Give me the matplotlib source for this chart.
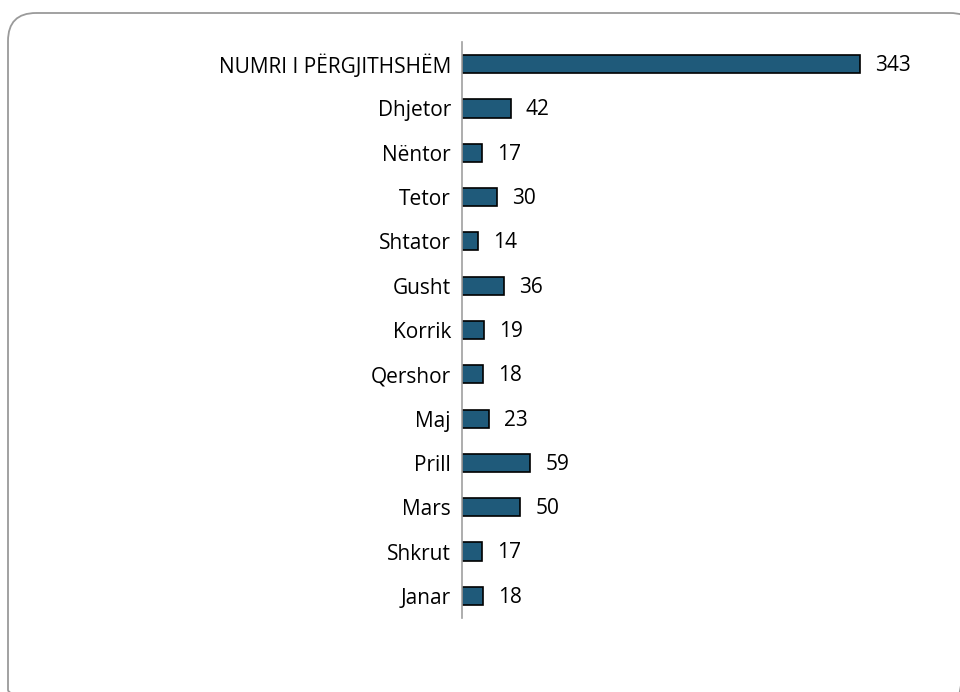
import matplotlib.pyplot as plt
from matplotlib.patches import FancyBboxPatch

months = ['Janar', 'Shkrut', 'Mars', 'Prill', 'Maj', 'Qershor', 'Korrik',
          'Gusht', 'Shtator', 'Tetor', 'Nëntor', 'Dhjetor', 'NUMRI I PËRGJITHSHËM']
counts = [18, 17, 50, 59, 23, 18, 19, 36, 14, 30, 17, 42, 343]

plt.rcParams['font.family'] = ['Open Sans', 'DejaVu Sans']

W, H = 960, 692
fig = plt.figure(figsize=(9.6, 6.92), dpi=100)

# rounded frame, drawn in pixel units on a background axes
bg = fig.add_axes([0, 0, 1, 1])
bg.set_xlim(0, W)
bg.set_ylim(H, 0)
bg.axis('off')
bg.add_patch(FancyBboxPatch((8, 13), 970, 705, boxstyle='round,pad=0,rounding_size=28',
                            facecolor='none', edgecolor='#9a9a9a', linewidth=1.3))

px = 1.16  # pixels per unit
ax = fig.add_axes([462 / W, 1 - 618 / H, 400 * px / W, (618 - 42) / H])
y = range(len(months))
ax.barh(y, counts, height=0.41, color='#1f5a7a', edgecolor='black', linewidth=1.2)
ax.set_xlim(0, 400)
ax.set_ylim(-0.5, len(months) - 0.5)
ax.set_yticks(list(y))
ax.set_yticklabels(months, fontsize=15)
ax.tick_params(axis='y', length=0, pad=8)
ax.set_xticks([])
for s in ['top', 'right', 'bottom']:
    ax.spines[s].set_visible(False)
ax.spines['left'].set_color('#a0a0a0')
ax.spines['left'].set_linewidth(1.2)

for i, v in enumerate(counts):
    ax.annotate(str(v), (v, i), xytext=(11, -1), textcoords='offset points',
                va='center', ha='left', fontsize=15)

fig.savefig('out.png', dpi=100)
